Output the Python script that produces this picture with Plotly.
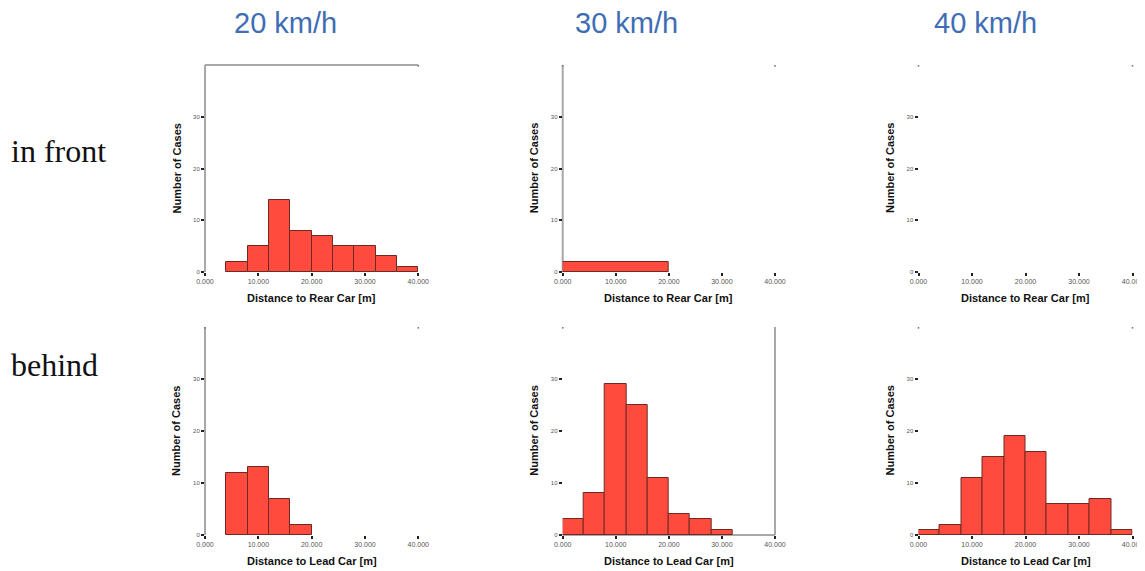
import plotly.graph_objects as go

# ---- data ----
speeds = ["20 km/h", "30 km/h", "40 km/h"]
rows = ["in front", "behind"]
bin_width = 4
x_tick_vals = [0, 10, 20, 30, 40]
x_tick_text = ["0.000", "10.000", "20.000", "30.000", "40.000"]
y_tick_vals = [0, 10, 20, 30]
y_tick_text = ["0", "10", "20", "30"]

# bin starts and counts (front = distance to rear car, behind = distance to lead car)
front_20_start = [4, 8, 12, 16, 20, 24, 28, 32, 36]
front_20_count = [2, 5, 14, 8, 7, 5, 5, 3, 1]
front_30_start = [0]
front_30_count = [2]
front_30_width = 20
front_40_start = []
front_40_count = []

behind_20_start = [4, 8, 12, 16]
behind_20_count = [12, 13, 7, 2]
behind_30_start = [0, 4, 8, 12, 16, 20, 24, 28]
behind_30_count = [3, 8, 29, 25, 11, 4, 3, 1]
behind_40_start = [0, 4, 8, 12, 16, 20, 24, 28, 32, 36]
behind_40_count = [1, 2, 11, 15, 19, 16, 6, 6, 7, 1]

x_titles = ["Distance to Rear Car [m]", "Distance to Lead Car [m]"]
y_title = "Number of Cases"

panels = [
    (front_20_start, front_20_count, bin_width),
    (front_30_start, front_30_count, front_30_width),
    (front_40_start, front_40_count, bin_width),
    (behind_20_start, behind_20_count, bin_width),
    (behind_30_start, behind_30_count, bin_width),
    (behind_40_start, behind_40_count, bin_width),
]

OFF = 8  # default page body margin
W, H = 1145 - OFF, 571 - OFF
col_px = [(205, 418.3), (562.7, 775), (918.5, 1132.5)]
row_px = [(65, 272), (327, 535)]

BAR = "#FF4A3E"
EDGE = "#6E2A22"
GREY = "#A8A8A8"

fig = go.Figure()
layout = dict(
    width=W, height=H, margin=dict(l=0, r=0, t=0, b=0, autoexpand=False),
    paper_bgcolor="white", plot_bgcolor="white", showlegend=False,
    bargap=0,
)

# which axis lines are visible in each panel: (left, top, right, bottom)
lines_vis = [
    (True, True, False, False),
    (True, False, False, False),
    (False, False, False, False),
    (True, False, False, False),
    (False, False, True, True),
    (False, False, False, False),
]
# small corner marks at the top of the frame: (top-left, top-right)
corner_marks = [
    (False, True),
    (True, True),
    (True, True),
    (True, True),
    (True, False),
    (True, True),
]

shapes = []
annotations = []
for i, (starts, counts, w) in enumerate(panels):
    r, c = divmod(i, 3)
    n = i + 1
    xa = "x" if n == 1 else f"x{n}"
    ya = "y" if n == 1 else f"y{n}"
    centers = [s + w / 2 for s in starts]
    fig.add_trace(go.Bar(
        x=centers, y=counts, width=[w] * len(centers),
        marker=dict(color=BAR, line=dict(color=EDGE, width=1)),
        xaxis=xa, yaxis=ya, hoverinfo="x+y",
    ))
    x0, x1 = col_px[c]
    yt, yb = row_px[r]
    x0 -= OFF; x1 -= OFF; yt -= OFF; yb -= OFF
    layout[f"xaxis{'' if n == 1 else n}"] = dict(
        domain=[x0 / W, x1 / W], anchor=ya, range=[0, 40], automargin=False,
        tickvals=x_tick_vals, ticktext=x_tick_text,
        ticks="outside", ticklen=3, tickwidth=1.5, tickcolor="#222",
        tickfont=dict(size=7, color="#555", family="Liberation Sans"),
        showgrid=False, zeroline=False, showline=False,
    )
    layout[f"yaxis{'' if n == 1 else n}"] = dict(
        domain=[1 - yb / H, 1 - yt / H], anchor=xa, range=[0, 40], automargin=False,
        tickvals=y_tick_vals, ticktext=y_tick_text,
        ticks="outside", ticklen=3, tickwidth=1.5, tickcolor="#222",
        tickfont=dict(size=6, color="#555", family="Liberation Sans"),
        showgrid=False, zeroline=False, showline=False,
    )
    L, T, R, B = lines_vis[i]
    xd, yd = f"{xa} domain", f"{ya} domain"
    seg = []
    if L: seg.append((0, 0, 0, 1))
    if T: seg.append((0, 1, 1, 1))
    if R: seg.append((1, 0, 1, 1))
    if B: seg.append((0, 0, 1, 0))
    for (a, b, cc, d) in seg:
        shapes.append(dict(type="line", xref=xd, yref=yd, x0=a, y0=b, x1=cc, y1=d,
                           line=dict(color=GREY, width=2), layer="below"))
    cl, cr = corner_marks[i]
    for flag, cx in ((cl, 0), (cr, 1)):
        if flag:
            shapes.append(dict(type="line", xref=xd, yref=yd, x0=cx, x1=cx,
                               y0=0.992, y1=1.0, line=dict(color="#777", width=1.5)))
    annotations.append(dict(
        text=f"<b>{y_title}</b>", xref=xd, yref=yd, x=0, y=0.5, xshift=-29,
        xanchor="center", yanchor="middle",
        textangle=-90, showarrow=False,
        font=dict(size=11, family="Liberation Sans", color="#111")))
    annotations.append(dict(
        text=f"<b>{x_titles[r]}</b>", xref=xd, yref=yd, x=0.5, y=0, yshift=-26,
        xanchor="center", yanchor="middle",
        showarrow=False,
        font=dict(size=11, family="Liberation Sans", color="#111")))

# column titles
title_x = [285, 626, 985]
for s, tx in zip(speeds, title_x):
    annotations.append(dict(
        text=s, xref="paper", yref="paper", x=(tx - OFF) / W, y=1 - (23 - OFF) / H,
        showarrow=False, xanchor="center", yanchor="middle",
        font=dict(size=29, family="Liberation Sans", color="#3E6DB5")))

# row labels
row_y = [151, 365]
for s, ty in zip(rows, row_y):
    annotations.append(dict(
        text=s, xref="paper", yref="paper", x=(9 - OFF) / W, y=1 - (ty - OFF) / H,
        showarrow=False, xanchor="left", yanchor="middle",
        font=dict(size=32, family="Liberation Serif", color="#111")))

layout["shapes"] = shapes
layout["annotations"] = annotations
fig.update_layout(**layout)
fig.write_html("out.html")
